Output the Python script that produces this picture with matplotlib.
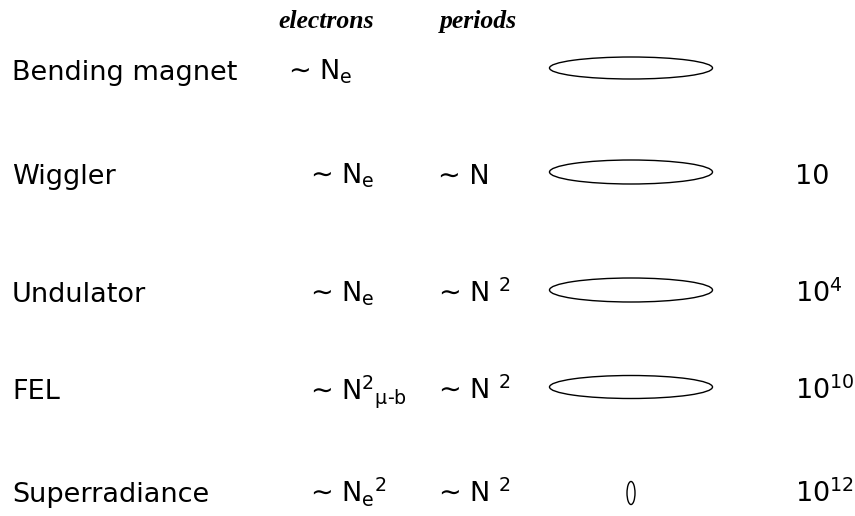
import matplotlib
matplotlib.use("Agg")
import matplotlib.pyplot as plt
from matplotlib.patches import Ellipse

# sources and how their emitted power scales
sources = ["Bending magnet", "Wiggler", "Undulator", "FEL", "Superradiance"]
electrons = [r"∼ N$_\mathregular{e}$",
             r"∼ N$_\mathregular{e}$",
             r"∼ N$_\mathregular{e}$",
             r"∼ N$^\mathregular{2}{}_\mathregular{μ‐b}$",
             r"∼ N$_\mathregular{e}{}^\mathregular{2}$"]
periods = ["", "∼ N", r"∼ N $^\mathregular{2}$", r"∼ N $^\mathregular{2}$", r"∼ N $^\mathregular{2}$"]
gain_exp = [None, 1, 4, 10, 12]
# relative pulse shape (length, height)
pulse_len = [163, 163, 163, 163, 8]
pulse_h = [22, 24, 24, 23, 23]

W, H = 855, 516
fig = plt.figure(figsize=(W / 100, H / 100), dpi=100)
ax = fig.add_axes([0, 0, 1, 1])
ax.set_xlim(0, W)
ax.set_ylim(H, 0)
ax.axis("off")

base = [80, 184, 302, 399, 502]
fs = 19.5
font = dict(family="DejaVu Sans", fontsize=fs, va="baseline", ha="left")

hdr = dict(family="Liberation Serif", fontsize=18.5, fontweight="bold",
           fontstyle="italic", va="baseline", ha="left")
ax.text(278, 28, "electrons", **hdr)
ax.text(440, 28, "periods", **hdr)

for i, name in enumerate(sources):
    y = base[i]
    ax.text(12, y, name, **font)
    ax.text(288 if i == 0 else 310, y, electrons[i], **font)
    if periods[i]:
        ax.text(438, y, periods[i], **font)
    dy = 9 if pulse_len[i] < 50 else 12
    ax.add_patch(Ellipse((631, y - dy), pulse_len[i], pulse_h[i],
                         fill=False, ec="black", lw=1.0))
    if gain_exp[i] is not None:
        if gain_exp[i] == 1:
            s = "10"
        else:
            s = r"10$^\mathregular{%d}$" % gain_exp[i]
        ax.text(795, y, s, **font)

fig.savefig("out.png", dpi=100, facecolor="white")
